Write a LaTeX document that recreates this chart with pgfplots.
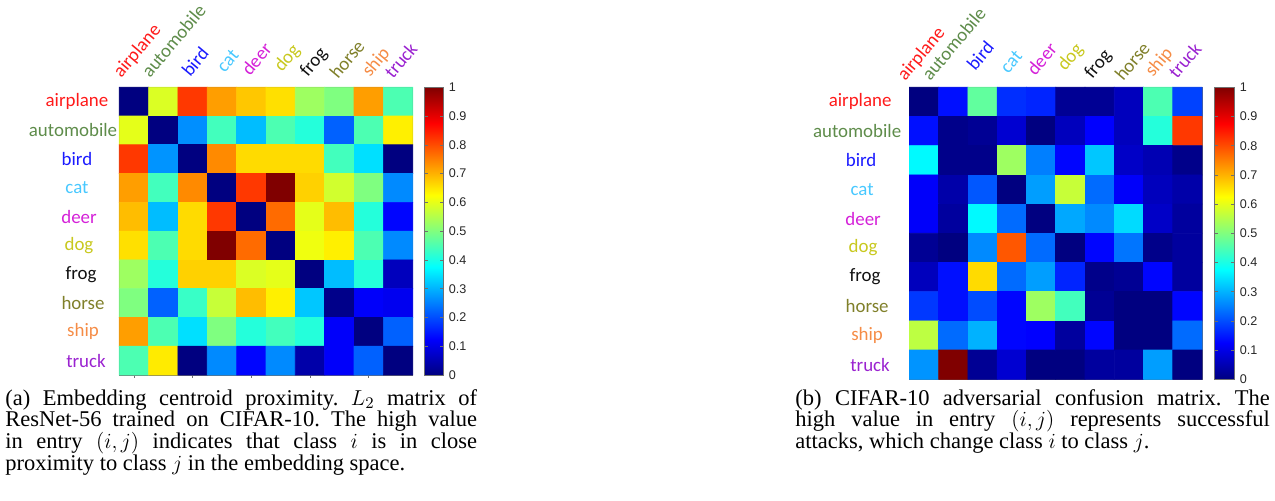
\documentclass[border=0pt]{standalone}
\usepackage{fontspec}
\setmainfont{Liberation Serif}
\newfontfamily\lab{Carlito}
\newfontfamily\hel{Liberation Sans}
\usepackage{pgfplots}
\usepackage{pgfplotstable}
\pgfplotsset{compat=1.18}
\frenchspacing

\definecolor{cAir}{HTML}{FF1A1A}
\definecolor{cAuto}{HTML}{5E8C4A}
\definecolor{cBird}{HTML}{1A1AFF}
\definecolor{cCat}{HTML}{48C8FF}
\definecolor{cDeer}{HTML}{D420D8}
\definecolor{cDog}{HTML}{C8C81E}
\definecolor{cFrog}{HTML}{111111}
\definecolor{cHorse}{HTML}{80802A}
\definecolor{cShip}{HTML}{F58C46}
\definecolor{cTruck}{HTML}{9A22D0}
\definecolor{frameg}{HTML}{707070}

% L2 centroid proximity matrix (row i, column j)
\pgfplotstableread{
x y c
1 1 0
2 1 0.59
3 1 0.82
4 1 0.72
5 1 0.68
6 1 0.655
7 1 0.53
8 1 0.50
9 1 0.72
10 1 0.45
1 2 0.60
2 2 0
3 2 0.265
4 2 0.44
5 2 0.31
6 2 0.45
7 2 0.41
8 2 0.22
9 2 0.45
10 2 0.64
1 3 0.82
2 3 0.27
3 3 0
4 3 0.74
5 3 0.66
6 3 0.66
7 3 0.66
8 3 0.44
9 3 0.345
10 3 0
1 4 0.72
2 4 0.44
3 4 0.74
4 4 0
5 4 0.82
6 4 1.0
7 4 0.67
8 4 0.58
9 4 0.50
10 4 0.26
1 5 0.69
2 5 0.31
3 5 0.66
4 5 0.82
5 5 0
6 5 0.77
7 5 0.60
8 5 0.69
9 5 0.41
10 5 0.13
1 6 0.655
2 6 0.45
3 6 0.66
4 6 1.0
5 6 0.77
6 6 0
7 6 0.61
8 6 0.64
9 6 0.45
10 6 0.26
1 7 0.53
2 7 0.41
3 7 0.67
4 7 0.67
5 7 0.59
6 7 0.60
7 7 0
8 7 0.31
9 7 0.41
10 7 0.06
1 8 0.50
2 8 0.22
3 8 0.43
4 8 0.57
5 8 0.69
6 8 0.64
7 8 0.32
8 8 0.01
9 8 0.12
10 8 0.11
1 9 0.72
2 9 0.45
3 9 0.345
4 9 0.50
5 9 0.41
6 9 0.44
7 9 0.41
8 9 0.12
9 9 0
10 9 0.22
1 10 0.45
2 10 0.645
3 10 0
4 10 0.26
5 10 0.13
6 10 0.26
7 10 0.04
8 10 0.12
9 10 0.22
10 10 0
}\matA

% adversarial confusion matrix (row i, column j)
\pgfplotstableread{
x y c
1 1 0
2 1 0.14
3 1 0.47
4 1 0.17
5 1 0.16
6 1 0.02
7 1 0.02
8 1 0.06
9 1 0.45
10 1 0.19
1 2 0.14
2 2 0.01
3 2 0.02
4 2 0.08
5 2 0
6 2 0.06
7 2 0.125
8 2 0.06
9 2 0.41
10 2 0.82
1 3 0.37
2 3 0.01
3 3 0.01
4 3 0.53
5 3 0.25
6 3 0.13
7 3 0.32
8 3 0.07
9 3 0.05
10 3 0.01
1 4 0.12
2 4 0.04
3 4 0.21
4 4 0
5 4 0.28
6 4 0.57
7 4 0.23
8 4 0.12
9 4 0.06
10 4 0.04
1 5 0.12
2 5 0.03
3 5 0.37
4 5 0.23
5 5 0
6 5 0.29
7 5 0.26
8 5 0.34
9 5 0.07
10 5 0.03
1 6 0.02
2 6 0
3 6 0.26
4 6 0.79
5 6 0.23
6 6 0
7 6 0.13
8 6 0.24
9 6 0.01
10 6 0.03
1 7 0.06
2 7 0.14
3 7 0.66
4 7 0.23
5 7 0.28
6 7 0.16
7 7 0.01
8 7 0.02
9 7 0.13
10 7 0.03
1 8 0.18
2 8 0.14
3 8 0.20
4 8 0.13
5 8 0.53
6 8 0.44
7 8 0.02
8 8 0
9 8 0
10 8 0.13
1 9 0.56
2 9 0.23
3 9 0.30
4 9 0.13
5 9 0.125
6 9 0.03
7 9 0.13
8 9 0
9 9 0
10 9 0.23
1 10 0.27
2 10 1.0
3 10 0.02
4 10 0.08
5 10 0
6 10 0
7 10 0.03
8 10 0.03
9 10 0.28
10 10 0
}\matB

\pgfplotsset{
  heat/.style={
    scale only axis,
    xmin=0.5, xmax=10.5, ymin=0.5, ymax=10.5,
    y dir=reverse,
    axis line style={frameg, line width=0.5pt},
    colormap/jet,
    point meta min=0, point meta max=1,
    clip=false,
    ytick=\empty,
    colorbar,
  },
  cbar/.style={
    colorbar style={
      at={(parent axis.north east)}, anchor=north west,
      xshift=#1,
      ytick={0,0.1,0.2,0.3,0.4,0.5,0.6,0.7,0.8,0.9,1},
      yticklabels={0,0.1,0.2,0.3,0.4,0.5,0.6,0.7,0.8,0.9,1},
      yticklabel style={font=\hel\fontsize{7}{8}\selectfont, text=black!85, inner sep=2.6pt},
      axis line style={frameg, line width=0.4pt},
      tick style={frameg, line width=0.3pt},
      tick align=inside,
      major tick length=2pt,
    },
  },
}
\tikzset{
  rl/.style={anchor=center, font=\lab\fontsize{10.5}{12}\selectfont, inner sep=0pt},
  cl/.style={anchor=base west, rotate=50, font=\lab\fontsize{10.5}{12}\selectfont, inner sep=0pt},
  captxt/.style={anchor=base west, inner sep=0pt, align=justify, font=\fontsize{12.5}{12.05}\selectfont},
}

\begin{document}
\begin{tikzpicture}
\path[use as bounding box] (0,0) rectangle (708.3pt,-278.3pt);

% ---------------- (a) ----------------
\begin{axis}[heat,
  at={(66.28pt,-48.5pt)}, anchor=north west,
  width=163.0pt, height=159.8pt,
  xtick={1,3,5,7,9}, xticklabels={},
  xtick pos=bottom, tick align=outside,
  major tick length=1.5pt,
  tick style={frameg, line width=0.4pt},
  cbar=-1.9pt,
  colorbar style={width=10.6pt},
]
\addplot[matrix plot*, mesh/cols=10, point meta=explicit] table[x=x, y=y, meta=c] {\matA};
% row labels
\node[rl, text=cAir]   at (axis cs:-0.942,1) {airplane};
\node[rl, text=cAuto]  at (axis cs:-1.078,2) {automobile};
\node[rl, text=cBird]  at (axis cs:-0.942,3) {bird};
\node[rl, text=cCat]   at (axis cs:-0.942,4) {cat};
\node[rl, text=cDeer]  at (axis cs:-0.874,5) {deer};
\node[rl, text=cDog]   at (axis cs:-0.874,6) {dog};
\node[rl, text=cFrog]  at (axis cs:-0.805,7) {frog};
\node[rl, text=cHorse] at (axis cs:-0.737,8) {horse};
\node[rl, text=cShip]  at (axis cs:-0.737,9) {ship};
\node[rl, text=cTruck] at (axis cs:-0.635,10) {truck};
% column labels
\node[cl, text=cAir]   at (axis cs:0.56,0.211) {airplane};
\node[cl, text=cAuto]  at (axis cs:1.546,0.211) {automobile};
\node[cl, text=cBird]  at (axis cs:2.91,0.177) {bird};
\node[cl, text=cCat]   at (axis cs:4.09,0.038) {cat};
\node[cl, text=cDeer]  at (axis cs:4.95,0.142) {deer};
\node[cl, text=cDog]   at (axis cs:6.04,0.003) {dog};
\node[cl, text=cFrog]  at (axis cs:6.92,0.177) {frog};
\node[cl, text=cHorse] at (axis cs:7.95,0.246) {horse};
\node[cl, text=cShip]  at (axis cs:9.04,0.177) {ship};
\node[cl, text=cTruck] at (axis cs:9.82,0.246) {truck};
\end{axis}

% ---------------- (b) ----------------
\begin{axis}[heat,
  at={(505.2pt,-48.5pt)}, anchor=north west,
  width=162.6pt, height=162.2pt,
  xtick=\empty,
  cbar=-1.5pt,
  colorbar style={width=11.1pt},
]
\addplot[matrix plot*, mesh/cols=10, point meta=explicit] table[x=x, y=y, meta=c] {\matB};
\node[rl, text=cAir]   at (axis cs:-1.184,1) {airplane};
\node[rl, text=cAuto]  at (axis cs:-1.287,2) {automobile};
\node[rl, text=cBird]  at (axis cs:-1.150,3) {bird};
\node[rl, text=cCat]   at (axis cs:-1.116,4) {cat};
\node[rl, text=cDeer]  at (axis cs:-1.082,5) {deer};
\node[rl, text=cDog]   at (axis cs:-1.082,6) {dog};
\node[rl, text=cFrog]  at (axis cs:-1.013,7) {frog};
\node[rl, text=cHorse] at (axis cs:-0.945,8) {horse};
\node[rl, text=cShip]  at (axis cs:-0.945,9) {ship};
\node[rl, text=cTruck] at (axis cs:-0.843,10) {truck};
\node[cl, text=cAir]   at (axis cs:0.353,0.318) {airplane};
\node[cl, text=cAuto]  at (axis cs:1.207,0.318) {automobile};
\node[cl, text=cBird]  at (axis cs:2.745,-0.024) {bird};
\node[cl, text=cCat]   at (axis cs:3.872,0.079) {cat};
\node[cl, text=cDeer]  at (axis cs:4.795,0.147) {deer};
\node[cl, text=cDog]   at (axis cs:5.82,-0.024) {dog};
\node[cl, text=cFrog]  at (axis cs:6.74,0.25) {frog};
\node[cl, text=cHorse] at (axis cs:7.80,0.318) {horse};
\node[cl, text=cShip]  at (axis cs:8.82,0.18) {ship};
\node[cl, text=cTruck] at (axis cs:9.64,0.25) {truck};
\end{axis}

% captions
\node[captxt, text width=262pt] at (2.8pt,-225pt)
  {(a) Embedding centroid proximity. $L_2$ matrix of\linebreak ResNet-56 trained on CIFAR-10. The high value\linebreak in entry $(i,j)$ indicates that class $i$ is in close\linebreak proximity to class $j$ in the embedding space.};
\node[captxt, text width=263.5pt] at (441.7pt,-225pt)
  {(b) CIFAR-10 adversarial confusion matrix. The\linebreak high value in entry $(i,j)$ represents successful\linebreak attacks, which change class $i$ to class $j$.};
\end{tikzpicture}
\end{document}
